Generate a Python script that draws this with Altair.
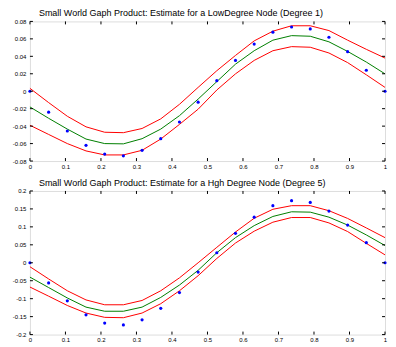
import altair as alt
import pandas as pd

x_vals = [0.0, 0.0526, 0.1053, 0.1579, 0.2105, 0.2632, 0.3158, 0.3684, 0.4211, 0.4737,
          0.5263, 0.5789, 0.6316, 0.6842, 0.7368, 0.7895, 0.8421, 0.8947, 0.9474, 1.0]

# Panel 1 (low degree node)
top_points = [0.0, -0.024, -0.0456, -0.062, -0.072, -0.074, -0.0677, -0.0544, -0.0353, -0.0125,
              0.0121, 0.0353, 0.054, 0.0677, 0.0736, 0.0714, 0.0618, 0.0453, 0.024, 0.0]
top_mid = [-0.018, -0.031, -0.0434, -0.0548, -0.060, -0.0603, -0.0544, -0.0434, -0.028, -0.009,
           0.011, 0.031, 0.0464, 0.0585, 0.0637, 0.063, 0.0566, 0.0456, 0.0334, 0.0199]
top_upper = [0.0033, -0.013, -0.0287, -0.0408, -0.047, -0.0475, -0.0427, -0.0317, -0.015, 0.0044,
             0.0235, 0.041, 0.0577, 0.0688, 0.075, 0.075, 0.0695, 0.0585, 0.048, 0.038]
top_lower = [-0.039, -0.0495, -0.060, -0.0684, -0.073, -0.073, -0.0677, -0.0548, -0.038, -0.0206,
             0.0014, 0.0199, 0.0353, 0.0464, 0.0511, 0.0504, 0.0438, 0.0328, 0.0188, 0.0044]

# Panel 2 (high degree node)
bot_points = [0.0, -0.056, -0.106, -0.145, -0.168, -0.173, -0.159, -0.127, -0.083, -0.026,
              0.028, 0.082, 0.127, 0.159, 0.173, 0.168, 0.144, 0.105, 0.056, 0.0]
bot_mid = [-0.040, -0.069, -0.098, -0.1235, -0.135, -0.135, -0.1235, -0.0965, -0.062, -0.021,
           0.028, 0.070, 0.1035, 0.129, 0.142, 0.141, 0.127, 0.105, 0.0775, 0.048]
bot_upper = [-0.011, -0.045, -0.078, -0.1035, -0.117, -0.117, -0.105, -0.078, -0.042, 0.0,
             0.043, 0.0857, 0.124, 0.149, 0.159, 0.159, 0.145, 0.1235, 0.097, 0.070]
bot_lower = [-0.0676, -0.093, -0.119, -0.14, -0.152, -0.153, -0.14, -0.114, -0.078, -0.036,
             0.012, 0.055, 0.088, 0.113, 0.126, 0.126, 0.111, 0.087, 0.054, 0.022]

x_ticks = [0, 0.1, 0.2, 0.3, 0.4, 0.5, 0.6, 0.7, 0.8, 0.9, 1]
top_yticks = [-0.08, -0.06, -0.04, -0.02, 0, 0.02, 0.04, 0.06, 0.08]
bot_yticks = [-0.2, -0.15, -0.1, -0.05, 0, 0.05, 0.1, 0.15, 0.2]

top_title = "Small World Gaph Product: Estimate for a LowDegree Node (Degree 1)"
bot_title = "Small World Gaph Product: Estimate for a Hgh Degree Node (Degree 5)"

FONT = "Liberation Sans"
TL = 3  # inward tick length


def panel(title, pts, up, mid, lo, ydom, yticks, W, H, toff):
    rows = []
    for name, arr in (("upper", up), ("mid", mid), ("lower", lo)):
        for xv, yv in zip(x_vals, arr):
            rows.append({"x": xv, "v": yv, "series": name})
    df_lines = pd.DataFrame(rows)
    df_pts = pd.DataFrame({"x": x_vals, "v": pts})
    df_xt = pd.DataFrame({"t": x_ticks})
    df_yt = pd.DataFrame({"t": yticks})

    xs = alt.Scale(domain=[0, 1], nice=False, zero=False)
    ys = alt.Scale(domain=ydom, nice=False, zero=False)
    xaxis = alt.Axis(values=x_ticks, labelExpr="toString(datum.value)", ticks=False,
                     domain=False, grid=False, labelPadding=2, title=None,
                     labelFlush=False, labelOverlap=False, labelFontSize=6,
                     labelFont=FONT, labelColor="black")
    yaxis = alt.Axis(values=yticks, labelExpr="toString(datum.value)", ticks=False,
                     domain=False, grid=False, labelPadding=4, title=None,
                     labelOverlap=False, labelFlush=False, labelFontSize=6,
                     labelFont=FONT, labelColor="black")

    def X(f):
        return alt.X(f, scale=xs, axis=xaxis, title=None)

    def Y(f):
        return alt.Y(f, scale=ys, axis=yaxis, title=None)

    lines = alt.Chart(df_lines).mark_line(strokeWidth=1).encode(
        x=X("x:Q"), y=Y("v:Q"),
        color=alt.Color("series:N",
                        scale=alt.Scale(domain=["upper", "mid", "lower"],
                                        range=["#ff0000", "#008000", "#ff0000"]),
                        legend=None),
    )
    points = alt.Chart(df_pts).mark_circle(size=10, color="#0000ff", opacity=1).encode(
        x=X("x:Q"), y=Y("v:Q"),
    )
    tb = alt.Chart(df_xt).mark_rule(color="black", strokeWidth=1).encode(
        x=X("t:Q"), y=alt.value(H), y2=alt.value(H - TL))
    tt = alt.Chart(df_xt).mark_rule(color="black", strokeWidth=1).encode(
        x=X("t:Q"), y=alt.value(0), y2=alt.value(TL))
    tl = alt.Chart(df_yt).mark_rule(color="black", strokeWidth=1).encode(
        y=Y("t:Q"), x=alt.value(0), x2=alt.value(TL))
    tr = alt.Chart(df_yt).mark_rule(color="black", strokeWidth=1).encode(
        y=Y("t:Q"), x=alt.value(W), x2=alt.value(W - TL))

    return alt.layer(lines, points, tb, tt, tl, tr).properties(
        width=W, height=H,
        title=alt.TitleParams(text=title, anchor="start", frame="group", dx=9,
                              fontSize=9, fontWeight="normal", font=FONT,
                              color="black", offset=toff),
    )


top = panel(top_title, top_points, top_upper, top_mid, top_lower,
            [-0.08, 0.08], top_yticks, 356, 140, 0)
bot = panel(bot_title, bot_points, bot_upper, bot_mid, bot_lower,
            [-0.2, 0.2], bot_yticks, 356, 144, 0)

chart = alt.vconcat(top, bot, spacing=8).properties(
    padding={"left": 3, "top": 0, "right": 0, "bottom": 0}
).configure_view(stroke="black", strokeWidth=1).configure(background="white")

chart.save("out.html", embed_options={"renderer": "svg", "actions": False})
